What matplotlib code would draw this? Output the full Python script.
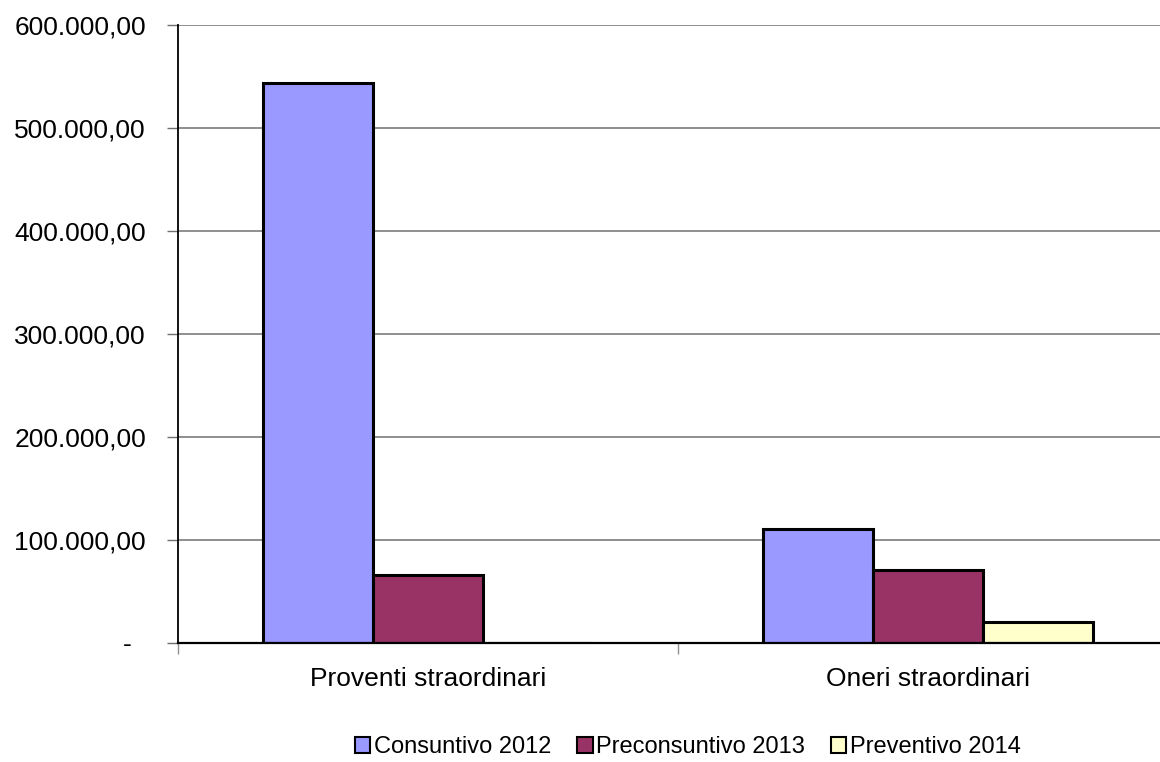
import matplotlib
matplotlib.use("Agg")
import matplotlib.pyplot as plt
import numpy as np
from matplotlib.patches import Patch

categories = ["Proventi straordinari", "Oneri straordinari"]
series_names = ["Consuntivo 2012", "Preconsuntivo 2013", "Preventivo 2014"]
consuntivo_2012 = [543500, 110500]
preconsuntivo_2013 = [66000, 70500]
preventivo_2014 = [0, 20500]
yticks = [0, 100000, 200000, 300000, 400000, 500000, 600000]
ytick_labels = ["-  ", "100.000,00", "200.000,00", "300.000,00", "400.000,00", "500.000,00", "600.000,00"]
colors = ["#9999FF", "#993366", "#FFFFCC"]

plt.rcParams['font.family'] = ['Liberation Sans', 'DejaVu Sans']

fig = plt.figure(figsize=(11.6, 7.62), dpi=100)
ax = fig.add_axes([178/1160, 1-643/762, 1000/1160, (643-25)/762])

data = [consuntivo_2012, preconsuntivo_2013, preventivo_2014]
w = 0.22
centers = np.arange(len(categories)) + 0.5
for i, (vals, c) in enumerate(zip(data, colors)):
    ax.bar(centers + (i - 1) * w, vals, width=w, color=c, edgecolor="black",
           linewidth=2.2, zorder=3)

ax.set_xlim(0, len(categories))
ax.set_ylim(0, 600000)
ax.set_yticks(yticks)
ax.set_yticklabels(ytick_labels, fontsize=19)
ax.yaxis.grid(True, color="#707070", linewidth=1.1, zorder=0)
ax.set_axisbelow(True)

ax.set_xticks([0, 1, 2])
ax.set_xticklabels([])
ax.set_xticks(centers, minor=True)
ax.set_xticklabels(categories, minor=True, fontsize=19)
ax.tick_params(axis='x', which='minor', length=0, pad=17)
ax.tick_params(axis='x', which='major', length=8, color="#909090", width=1)
ax.tick_params(axis='y', length=8, color="#707070", width=1, pad=15)
for lab in ax.get_yticklabels():
    lab.set_horizontalalignment('right')

for s in ["top", "right"]:
    ax.spines[s].set_visible(False)
ax.spines["left"].set_linewidth(1.3)
ax.spines["bottom"].set_linewidth(1.6)
ax.spines["left"].set_zorder(4)
ax.spines["bottom"].set_zorder(4)

handles = [Patch(facecolor=c, edgecolor="black", linewidth=1.5) for c in colors]
fig.legend(handles, series_names, loc="center", bbox_to_anchor=(688/1160, 1-747/762),
           ncol=3, frameon=False, fontsize=17, handlelength=0.65, handleheight=0.65,
           handletextpad=0.15, columnspacing=1.1)

fig.savefig("out.png", dpi=100)
